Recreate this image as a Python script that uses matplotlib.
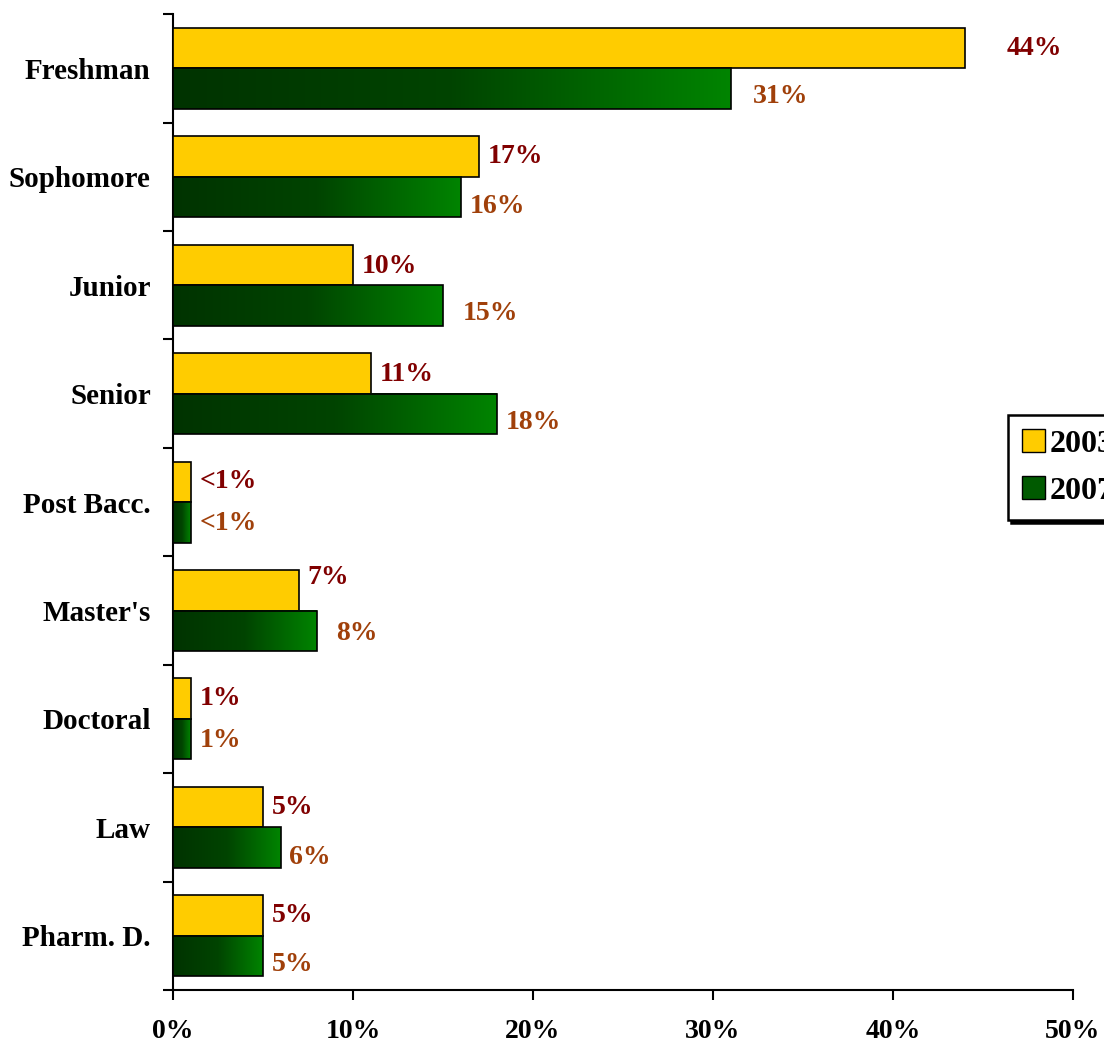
"""Enrollment by class level, 2003 vs 2007."""

import matplotlib
matplotlib.use("Agg")
import matplotlib.pyplot as plt
import numpy as np
from matplotlib.colors import LinearSegmentedColormap
from matplotlib.patches import Patch
from matplotlib.ticker import FixedLocator, FuncFormatter

categories = ["Freshman", "Sophomore", "Junior", "Senior", "Post Bacc.",
              "Master's", "Doctoral", "Law", "Pharm. D."]
values_2003 = [44, 17, 10, 11, 1, 7, 1, 5, 5]
values_2007 = [31, 16, 15, 18, 1, 8, 1, 6, 5]
labels_2003 = ["44%", "17%", "10%", "11%", "<1%", "7%", "1%", "5%", "5%"]
labels_2007 = ["31%", "16%", "15%", "18%", "<1%", "8%", "1%", "6%", "5%"]

# label nudges (points) to mimic the original placement
nudge_2003 = [(30, 0), (6, 0), (6, -1), (6, -1), (6, 0), (6, 9), (6, 0), (6, 0), (6, 0)]
nudge_2007 = [(16, -6), (6, -7), (14, -6), (6, -6), (6, -1), (14, -2), (6, -1), (6, -7), (6, -6)]

YELLOW = "#FFCC00"
RED_TXT = "#800000"
BROWN_TXT = "#A0400A"
green_cmap = LinearSegmentedColormap.from_list("g", ["#003300", "#004400", "#008400"])

plt.rcParams["font.family"] = ["Liberation Serif", "DejaVu Serif"]
plt.rcParams["font.weight"] = "bold"

fig = plt.figure(figsize=(11.04, 10.55), dpi=100)
ax = fig.add_axes([0.1567, 0.0616, 0.8152, 0.925])

n = len(categories)
y = np.arange(n)
h = 0.373

ax.barh(y - h / 2, values_2003, height=h, color=YELLOW, edgecolor="black", linewidth=1.2, zorder=3)
bars07 = ax.barh(y + h / 2, values_2007, height=h, color="none", edgecolor="black", linewidth=1.2, zorder=4)

grad = np.linspace(0, 1, 256).reshape(1, -1)
for b in bars07:
    x0, y0 = b.get_x(), b.get_y()
    ax.imshow(grad, cmap=green_cmap, aspect="auto", zorder=3,
              extent=[x0, x0 + b.get_width(), y0 + b.get_height(), y0])

for i in range(n):
    ax.annotate(labels_2003[i], (values_2003[i], y[i] - h / 2), xytext=nudge_2003[i],
                textcoords="offset points", va="center", ha="left",
                fontsize=20, fontweight="bold", color=RED_TXT)
    ax.annotate(labels_2007[i], (values_2007[i], y[i] + h / 2), xytext=nudge_2007[i],
                textcoords="offset points", va="center", ha="left",
                fontsize=20, fontweight="bold", color=BROWN_TXT)

ax.set_xlim(0, 50)
ax.set_ylim(n - 0.5, -0.5)

ax.set_xticks(np.arange(0, 51, 10))
ax.xaxis.set_major_formatter(FuncFormatter(lambda v, _: f"{v:.0f}%"))
ax.tick_params(axis="x", direction="out", length=7, width=1.5, pad=14, labelsize=20)

ax.set_yticks(y)
ax.set_yticklabels(categories)
ax.yaxis.set_minor_locator(FixedLocator(np.arange(-0.5, n, 1.0)))
ax.tick_params(axis="y", which="major", length=0, pad=16, labelsize=21)
ax.tick_params(axis="y", which="minor", direction="out", length=7, width=1.5)

for side in ("top", "right"):
    ax.spines[side].set_visible(False)
for side in ("left", "bottom"):
    ax.spines[side].set_linewidth(1.5)

handles = [Patch(facecolor=YELLOW, edgecolor="black"),
           Patch(facecolor="#005a00", edgecolor="black")]
leg = fig.legend(handles, ["2003", "2007"], loc="upper left", bbox_to_anchor=(0.913, 0.607),
                 frameon=True, fancybox=False, shadow={"color": "black", "alpha": 1},
                 fontsize=23, handlelength=0.72, handleheight=0.72, handletextpad=0.12,
                 labelspacing=0.55, borderpad=0.45, borderaxespad=0)
leg.get_frame().set_edgecolor("black")
leg.get_frame().set_linewidth(1.8)
for t in leg.get_texts():
    t.set_fontweight("bold")

fig.savefig("out.png", dpi=100)
plt.close(fig)
